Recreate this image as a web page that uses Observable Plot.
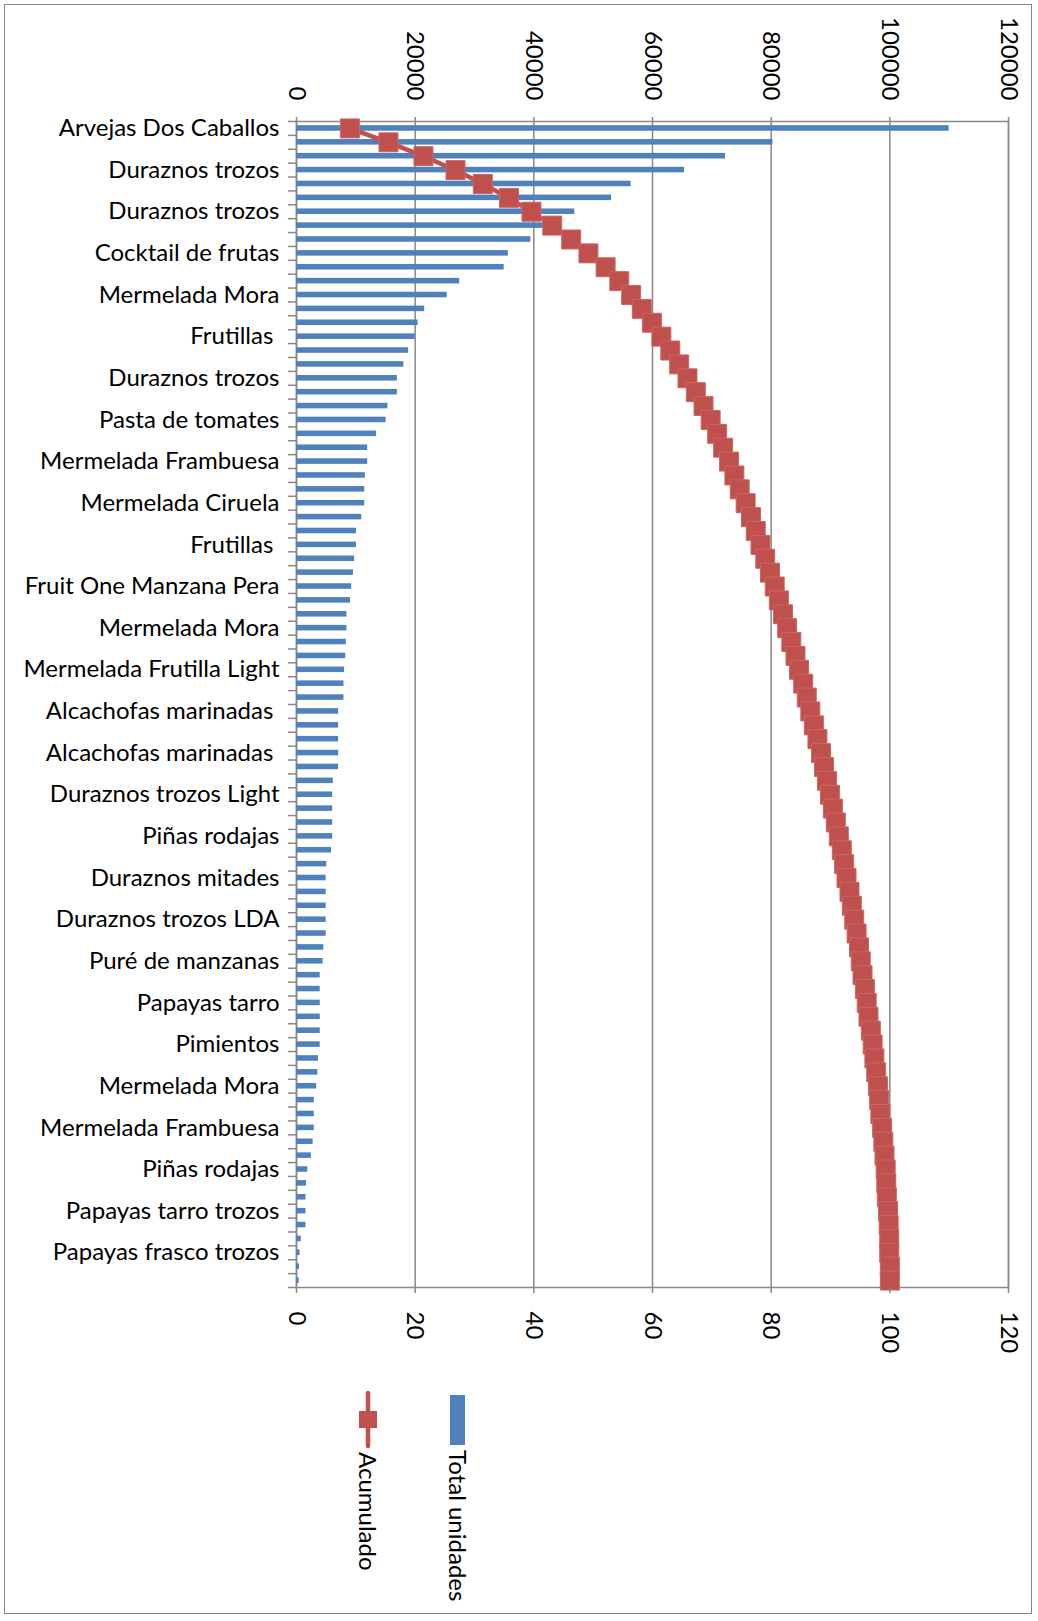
<!DOCTYPE html>
<html><head><meta charset="utf-8">
<script src="https://cdn.jsdelivr.net/npm/d3@7"></script>
<script src="https://cdn.jsdelivr.net/npm/@observablehq/plot@0.6"></script>
<style>
body{margin:0;background:#fff;font-family:Lato,sans-serif;}
#page{position:relative;width:1038px;height:1621px;overflow:hidden;background:#fff;}
#border{position:absolute;left:4px;top:4px;width:1028px;height:1610px;border:1.5px solid #888;box-sizing:border-box;}
#chart{position:absolute;left:0;top:0;}
.leg{position:absolute;writing-mode:vertical-rl;font-size:24px;line-height:24px;color:#000;white-space:nowrap;font-family:Lato,sans-serif;}
</style></head><body>
<div id="page"><div id="border"></div><div id="chart"></div><div id="legend"></div></div>
<script>
// Category tick labels (every third product is labelled on the axis)
const labels = [
  "Arvejas Dos Caballos", "Duraznos trozos", "Duraznos trozos", "Cocktail de frutas",
  "Mermelada Mora", "Frutillas\u00a0", "Duraznos trozos", "Pasta de tomates",
  "Mermelada Frambuesa", "Mermelada Ciruela", "Frutillas\u00a0", "Fruit One Manzana Pera",
  "Mermelada Mora", "Mermelada Frutilla Light", "Alcachofas marinadas\u00a0", "Alcachofas marinadas\u00a0",
  "Duraznos trozos Light", "Piñas rodajas", "Duraznos mitades", "Duraznos trozos LDA",
  "Puré de manzanas", "Papayas tarro", "Pimientos", "Mermelada Mora",
  "Mermelada Frambuesa", "Piñas rodajas", "Papayas tarro trozos", "Papayas frasco trozos"
];
// Total unidades per product (84 products)
const units = [
  110000, 80300, 72300, 65400, 56400, 53100, 46900, 43000, 39500, 35700,
  35000, 27500, 25400, 21600, 20500, 20000, 18900, 18100, 17000, 17000,
  15400, 15100, 13500, 12000, 12000, 11600, 11500, 11500, 11000, 10100,
  10100, 9800, 9600, 9300, 9100, 8500, 8500, 8400, 8300, 8100,
  8000, 8000, 7100, 7100, 7100, 7100, 7100, 6200, 6100, 6100,
  6100, 6100, 5900, 5100, 5000, 5000, 5000, 5000, 5000, 4600,
  4500, 4000, 4000, 4000, 4000, 4000, 4000, 3700, 3600, 3400,
  3000, 3000, 3000, 2800, 2500, 1900, 1700, 1600, 1600, 1600,
  800, 600, 500, 450
];
// Acumulado (%)
const acumulado = [
  9.0, 15.5, 21.4, 26.8, 31.4, 35.8, 39.6, 43.1, 46.3, 49.2,
  52.1, 54.4, 56.4, 58.2, 59.9, 61.5, 63.0, 64.5, 65.9, 67.3,
  68.6, 69.8, 70.9, 71.9, 72.9, 73.8, 74.7, 75.7, 76.6, 77.4,
  78.2, 79.0, 79.8, 80.6, 81.3, 82.0, 82.7, 83.4, 84.1, 84.7,
  85.4, 86.0, 86.6, 87.2, 87.8, 88.4, 88.9, 89.4, 89.9, 90.4,
  90.9, 91.4, 91.9, 92.3, 92.7, 93.2, 93.6, 94.0, 94.4, 94.8,
  95.1, 95.4, 95.8, 96.1, 96.4, 96.8, 97.1, 97.4, 97.7, 98.0,
  98.2, 98.4, 98.7, 98.9, 99.1, 99.3, 99.4, 99.5, 99.7, 99.8,
  99.9, 99.9, 100.0, 100.0
];
const unitTicks = [0, 20000, 40000, 60000, 80000, 100000, 120000];
const pctTicks = [0, 20, 40, 60, 80, 100, 120];
const seriesNames = ["Total unidades", "Acumulado"];

const rows = units.map((u, k) => ({i: k + 1, units: u, acum: acumulado[k]}));
const idx = rows.map(d => d.i);

const W = 1038, H = 1370, top0 = 121, bottom0 = 1287, left0 = 296, right0 = 1008;
const half = (bottom0 - top0) / rows.length / 2;
const blue = "#4F81BD", red = "#C0504D", gray = "#888";

const chart = Plot.plot({
  width: W, height: H,
  marginTop: top0, marginBottom: H - bottom0, marginLeft: left0, marginRight: W - right0,
  style: {fontFamily: "Lato, sans-serif", fontSize: "24px", color: "#000", background: "transparent", overflow: "visible"},
  x: {domain: [0, 120000], axis: null, label: null},
  y: {domain: idx, paddingInner: 0.6, paddingOuter: 0.3, axis: null, label: null},
  marks: [
    Plot.gridX(unitTicks, {stroke: gray, strokeOpacity: 1, strokeWidth: 1.5}),
    Plot.frame({stroke: gray, strokeWidth: 1.5}),
    Plot.barX(rows, {x: "units", y: "i", fill: blue}),
    Plot.line(rows, {x: d => d.acum * 1000, y: "i", stroke: red, strokeWidth: 4.5}),
    Plot.dot(rows, {x: d => d.acum * 1000, y: "i", symbol: "square", r: 10.7, fill: red, stroke: "#c96764", strokeWidth: 1}),
    Plot.axisX({anchor: "top", label: null, ticks: unitTicks, tickFormat: d => String(d), tickSize: 5, tickRotate: 90, tickPadding: 16, stroke: gray, strokeWidth: 1.5}),
    Plot.axisX({anchor: "bottom", label: null, ticks: pctTicks.map(p => p * 1000), tickFormat: d => String(d / 1000), tickSize: 6, tickRotate: 90, tickPadding: 18, stroke: gray, strokeWidth: 1.5}),
    Plot.axisY({anchor: "left", label: null, ticks: idx, tickSize: 0, tickPadding: 17, tickFormat: i => (i - 1) % 3 === 0 ? labels[(i - 1) / 3] : ""}),
    Plot.axisY({anchor: "left", label: null, ticks: idx, tickSize: 8, tickFormat: () => "", dy: half, stroke: gray, strokeWidth: 1.5}),
    Plot.axisY({anchor: "left", label: null, ticks: [1], tickSize: 8, tickFormat: () => "", dy: -half, stroke: gray, strokeWidth: 1.5})
  ]
});
document.getElementById("chart").appendChild(chart);

// Legend (rotated, below the plot)
const leg = document.getElementById("legend");
const sw = document.createElement("div");
sw.style.cssText = `position:absolute;left:450px;top:1395px;width:15px;height:50px;background:${blue};`;
leg.appendChild(sw);
const t1 = document.createElement("div");
t1.className = "leg"; t1.style.left = "446px"; t1.style.top = "1450px"; t1.textContent = seriesNames[0];
leg.appendChild(t1);
const ns = "http://www.w3.org/2000/svg";
const sym = document.createElementNS(ns, "svg");
sym.setAttribute("width", 26); sym.setAttribute("height", 60);
sym.style.cssText = "position:absolute;left:355px;top:1390px;";
const ln = document.createElementNS(ns, "line");
ln.setAttribute("x1", 13); ln.setAttribute("x2", 13); ln.setAttribute("y1", 3); ln.setAttribute("y2", 56);
ln.setAttribute("stroke", red); ln.setAttribute("stroke-width", 4.5); ln.setAttribute("stroke-linecap", "round");
sym.appendChild(ln);
const sq = document.createElementNS(ns, "rect");
sq.setAttribute("x", 4); sq.setAttribute("y", 21); sq.setAttribute("width", 18); sq.setAttribute("height", 17);
sq.setAttribute("fill", red);
sym.appendChild(sq);
leg.appendChild(sym);
const t2 = document.createElement("div");
t2.className = "leg"; t2.style.left = "356px"; t2.style.top = "1452px"; t2.textContent = seriesNames[1];
leg.appendChild(t2);
</script>
</body></html>
